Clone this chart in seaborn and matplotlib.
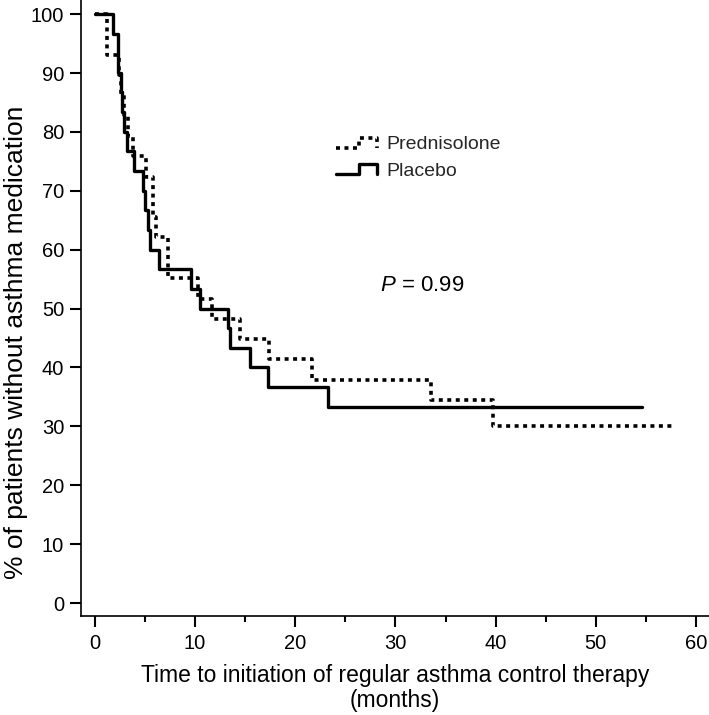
import matplotlib
matplotlib.use("Agg")
import matplotlib.pyplot as plt
import seaborn as sns
import pandas as pd
from matplotlib.lines import Line2D
from matplotlib.legend_handler import HandlerBase

# Kaplan-Meier step points
pred_time = [0, 1.2, 2.4, 2.6, 2.9, 3.3, 3.8, 5.1, 5.8, 6.1, 7.3, 10.3, 11.7, 14.5, 17.4, 21.7, 33.6, 39.7, 57.7]
pred_surv = [100, 93.1, 89.7, 86.2, 82.8, 79.3, 75.9, 72.4, 65.5, 62.1, 55.2, 51.7, 48.3, 44.8, 41.4, 37.9, 34.5, 30.1, 30.1]

plac_time = [0, 1.8, 2.3, 2.6, 2.7, 2.9, 3.2, 3.9, 4.8, 5.0, 5.3, 5.5, 6.4, 9.6, 10.5, 13.3, 13.5, 15.5, 17.3, 23.3, 54.6]
plac_surv = [100, 96.7, 90.0, 86.7, 83.3, 80.0, 76.7, 73.3, 70.0, 66.7, 63.3, 60.0, 56.7, 53.3, 50.0, 46.7, 43.3, 40.0, 36.7, 33.3, 33.3]

groups = ["Prednisolone", "Placebo"]
x_ticks = [0, 10, 20, 30, 40, 50, 60]
y_ticks = [0, 10, 20, 30, 40, 50, 60, 70, 80, 90, 100]
p_text = "= 0.99"

sns.set_theme(style="ticks")
plt.rcParams["font.family"] = ["Liberation Sans", "DejaVu Sans"]
plt.rcParams["mathtext.fontset"] = "custom"
plt.rcParams["mathtext.rm"] = "Liberation Sans"
plt.rcParams["mathtext.it"] = "Liberation Sans:italic"

df_pred = pd.DataFrame({"time": pred_time, "surv": pred_surv, "group": groups[0]})
df_plac = pd.DataFrame({"time": plac_time, "surv": plac_surv, "group": groups[1]})

fig = plt.figure(figsize=(7.09, 7.15), dpi=100)
ax = fig.add_axes([0.114, 0.1385, 0.886, 0.8615])

LW = 2.4
DOT_LW = 2.6
DOTS = (0, (1.1, 1.25))
sns.lineplot(data=df_pred, x="time", y="surv", ax=ax, color="black", lw=DOT_LW,
             drawstyle="steps-post", estimator=None, sort=False, legend=False,
             linestyle=DOTS)
sns.lineplot(data=df_plac, x="time", y="surv", ax=ax, color="black", lw=LW,
             drawstyle="steps-post", estimator=None, sort=False, legend=False)

ax.set_xlim(-1.4, 61.3)
ax.set_ylim(-2.2, 102.4)
ax.set_xticks(x_ticks)
ax.set_xticks([5, 15, 25, 35, 45, 55], minor=True)
ax.set_yticks(y_ticks)
ax.tick_params(axis="both", which="major", length=8, width=1.5, color="black",
               labelsize=14.5, labelcolor="black", direction="out")
ax.tick_params(axis="x", which="minor", length=4.5, width=1.5, color="black", direction="out")
ax.tick_params(axis="x", which="major", pad=5)
ax.tick_params(axis="y", which="major", pad=4)
for s in ["left", "bottom"]:
    ax.spines[s].set_linewidth(1.2)
    ax.spines[s].set_color("black")
sns.despine(ax=ax)

ax.set_xlabel("Time to initiation of regular asthma control therapy\n(months)",
              fontsize=16.5, color="black", linespacing=1.1, labelpad=8)
ax.set_ylabel("% of patients without asthma medication", fontsize=19, color="black")
ax.yaxis.set_label_coords(-0.084, 0.445)


class StepHandler(HandlerBase):
    def __init__(self, ls, lw):
        super().__init__()
        self.ls = ls
        self.lw = lw

    def create_artists(self, legend, orig_handle, xdescent, ydescent, width, height, fontsize, trans):
        x0, y0 = -xdescent, -ydescent
        xs = [x0, x0 + 0.55 * width, x0 + 0.55 * width, x0 + width, x0 + width]
        ys = [y0 + 0.1 * height, y0 + 0.1 * height, y0 + 0.85 * height, y0 + 0.85 * height, y0 + 0.1 * height]
        line = Line2D(xs, ys, color="black", lw=self.lw, linestyle=self.ls)
        line.set_transform(trans)
        return [line]


h_pred = Line2D([], [], color="black", lw=DOT_LW, linestyle=DOTS)
h_plac = Line2D([], [], color="black", lw=LW)
fig.legend([h_pred, h_plac], groups, loc="upper left",
           bbox_to_anchor=(0.474, 0.810), bbox_transform=fig.transFigure,
           frameon=False, fontsize=14, handlelength=2.1, handletextpad=0.5,
           labelspacing=0.45, borderpad=0, borderaxespad=0,
           handler_map={h_pred: StepHandler(DOTS, DOT_LW), h_plac: StepHandler("-", LW)})

fig.text(0.595, 0.601, r"$P$ " + p_text, ha="center", va="center", fontsize=16, color="black")

fig.savefig("out.png", dpi=100)
